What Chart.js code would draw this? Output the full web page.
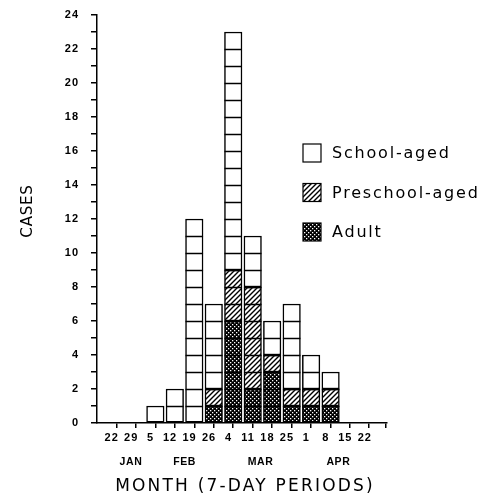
<!DOCTYPE html>
<html>
<head>
<meta charset="utf-8">
<script src="https://cdn.jsdelivr.net/npm/chart.js@4.4.1/dist/chart.umd.min.js"></script>
<style>
  html, body { margin: 0; padding: 0; background: #fff; }
  #wrap { width: 489px; height: 498px; }
</style>
</head>
<body>
<div id="wrap"><canvas id="casos"></canvas></div>
<script>
// ..........DADOS..........
const semanas = ['22', '29', '5', '12', '19', '26', '4', '11', '18', '25', '1', '8', '15', '22'];
const meses = ['JAN', 'FEB', 'MAR', 'APR'];
const posMeses = [1.25, 4, 7.9, 11.9]; // posicao dos rotulos de mes no eixo x
const adultos = [0, 0, 0, 0, 0, 1, 6, 2, 3, 1, 1, 1, 0];
const preEscolar = [0, 0, 0, 0, 0, 1, 3, 6, 1, 1, 1, 1, 0];
const escolar = [0, 0, 1, 2, 12, 5, 14, 3, 2, 5, 2, 1, 0];
const legendas = ['School-aged', 'Preschool-aged', 'Adult'];
const tituloX = 'MONTH (7-DAY PERIODS)';
const tituloY = 'CASES';

// ..........PADROES..........
function padraoHachura() {
    const c = document.createElement('canvas');
    c.width = 5; c.height = 5;
    const g = c.getContext('2d');
    g.fillStyle = '#fff';
    g.fillRect(0, 0, 5, 5);
    g.strokeStyle = '#000';
    g.lineWidth = 1.4;
    g.beginPath();
    g.moveTo(0, 5); g.lineTo(5, 0);
    g.moveTo(-1, 1); g.lineTo(1, -1);
    g.moveTo(4, 6); g.lineTo(6, 4);
    g.stroke();
    return g.createPattern(c, 'repeat');
}

function padraoPontos() {
    const c = document.createElement('canvas');
    c.width = 4; c.height = 4;
    const g = c.getContext('2d');
    g.fillStyle = '#000';
    g.fillRect(0, 0, 4, 4);
    g.fillStyle = '#fff';
    g.fillRect(0, 0, 1.3, 1.3);
    g.fillRect(2, 2, 1.3, 1.3);
    return g.createPattern(c, 'repeat');
}

const hachura = padraoHachura();
const pontos = padraoPontos();

function serie(valores) {
    return valores.map((v, i) => ({ x: i + 0.5, y: v || null }));
}

// linhas de cada caso, meses, titulos e legenda
const pluginCasos = {
    id: 'casos',
    beforeDraw(chart) {
        chart.ctx.letterSpacing = '1px';
    },
    afterDatasetsDraw(chart) {
        const ctx = chart.ctx;
        const y = chart.scales.y;
        const meta = chart.getDatasetMeta(2);
        ctx.save();
        ctx.strokeStyle = '#000';
        ctx.lineWidth = 1.5;
        for (let i = 0; i < escolar.length; i++) {
            const total = adultos[i] + preEscolar[i] + escolar[i];
            const barra = meta.data[i];
            if (!barra || total < 2) continue;
            const esq = barra.x - barra.width / 2;
            const dir = barra.x + barra.width / 2;
            for (let k = 1; k < total; k++) {
                const py = Math.round(y.getPixelForValue(k)) + 0.5;
                ctx.beginPath();
                ctx.moveTo(esq, py);
                ctx.lineTo(dir, py);
                ctx.stroke();
            }
        }
        ctx.restore();
    },
    afterDraw(chart) {
        const ctx = chart.ctx;
        const x = chart.scales.x;
        const area = chart.chartArea;
        ctx.save();
        ctx.fillStyle = '#000';
        ctx.textBaseline = 'middle';
        // rotulos dos meses
        ctx.font = 'bold 10.5px "Liberation Sans"';
        ctx.letterSpacing = '0.6px';
        ctx.textAlign = 'center';
        meses.forEach((m, i) => {
            ctx.fillText(m, x.getPixelForValue(posMeses[i]), 462);
        });
        // titulo do eixo x
        ctx.font = '17px "DejaVu Sans"';
        ctx.letterSpacing = '2.2px';
        ctx.fillText(tituloX, (area.left + area.right) / 2 + 3, 487);
        // titulo do eixo y
        ctx.font = '15px "DejaVu Sans"';
        ctx.letterSpacing = '0.8px';
        ctx.save();
        ctx.translate(28, 211);
        ctx.rotate(-Math.PI / 2);
        ctx.fillText(tituloY, 0, 0);
        ctx.restore();
        // legenda
        const padroes = ['#fff', hachura, pontos];
        ctx.font = '16px "DejaVu Sans"';
        ctx.letterSpacing = '1.8px';
        ctx.textAlign = 'left';
        legendas.forEach((t, i) => {
            const cy = 153 + i * 39.5;
            ctx.fillStyle = padroes[i];
            ctx.fillRect(303, cy - 9, 18, 18);
            ctx.strokeStyle = '#000';
            ctx.lineWidth = 1.2;
            ctx.strokeRect(303, cy - 9, 18, 18);
            ctx.fillStyle = '#000';
            ctx.fillText(t, 332, cy + 1);
        });
        ctx.restore();
    }
};

var ctx = document.getElementById('casos').getContext('2d');
var chartCasos = new Chart(ctx, {
    type: 'bar',
    data: {
        datasets: [
            { label: legendas[2], data: serie(adultos), backgroundColor: pontos },
            { label: legendas[1], data: serie(preEscolar), backgroundColor: hachura },
            { label: legendas[0], data: serie(escolar), backgroundColor: '#fff' }
        ]
    },
    options: {
        responsive: true,
        maintainAspectRatio: false,
        animation: false,
        datasets: {
            bar: {
                borderColor: '#000',
                borderWidth: 1.5,
                borderSkipped: false,
                barPercentage: 1,
                categoryPercentage: 1
            }
        },
        layout: { padding: { top: 15, right: 102, bottom: 0, left: 0 } },
        plugins: {
            legend: { display: false },
            tooltip: { enabled: false }
        },
        scales: {
            x: {
                type: 'linear',
                stacked: true,
                min: 0,
                max: 13.9,
                afterBuildTicks: (s) => {
                    s.ticks = semanas.map((_, i) => ({ value: i })).concat([{ value: 13.9 }]);
                },
                afterFit: (s) => { s.height = 75; s.paddingLeft = 0; s.paddingRight = 0; },
                border: { display: true, color: '#000', width: 1.5 },
                grid: { drawOnChartArea: false, color: '#000', lineWidth: 1.5, tickLength: 5 },
                ticks: {
                    autoSkip: false,
                    maxRotation: 0,
                    padding: 3,
                    labelOffset: 5,
                    color: '#000',
                    font: { family: 'Liberation Sans', weight: 'bold', size: 11 },
                    callback: (v) => Number.isInteger(v) ? semanas[v] : ''
                }
            },
            y: {
                stacked: true,
                min: 0,
                max: 24,
                afterFit: (s) => { s.width = 97; s.paddingTop = 0; s.paddingBottom = 0; },
                border: { display: true, color: '#000', width: 1.5 },
                grid: { drawOnChartArea: false, color: '#000', lineWidth: 1.5, tickLength: 6 },
                ticks: {
                    stepSize: 1,
                    autoSkip: false,
                    padding: 12,
                    color: '#000',
                    font: { family: 'Liberation Sans', weight: 'bold', size: 11 },
                    callback: (v) => v % 2 === 0 ? v : ''
                }
            }
        }
    },
    plugins: [pluginCasos]
});
</script>
</body>
</html>
